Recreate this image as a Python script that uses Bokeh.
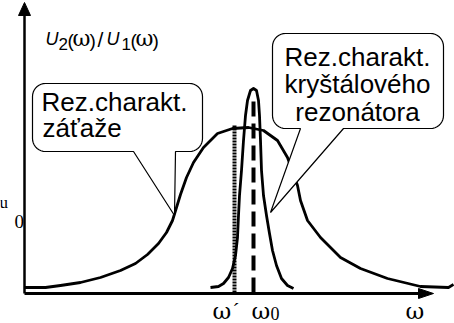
import numpy as np
from bokeh.plotting import figure
from bokeh.models import Range1d, Label
from bokeh.embed import file_html
from bokeh.resources import INLINE

# Load (wide) resonance characteristic: omega vs. amplitude
load_w = [0, 21, 36, 56, 76, 96, 111, 123, 134, 142, 148, 152, 156, 162, 169, 179, 193,
          208, 224, 239, 253, 263, 273, 276, 283, 296, 316, 336, 363, 396, 424, 429]
load_a = [5, 5, 7, 10, 15, 22, 29, 38, 49, 60, 72, 85, 98, 115, 130, 145, 159,
          164, 165, 162, 152, 135, 107, 92, 72, 55, 35, 24, 14, 6, 5, 8]

# Crystal resonator (narrow) characteristic
xtal_w = [186, 194, 199, 204, 208, 211, 213, 214, 215, 217, 219, 221, 223, 226, 229,
          232, 234, 235, 236, 237, 239, 242, 245, 248, 252, 257, 263, 269]
xtal_a = [5, 6, 9, 15, 24, 37, 55, 77, 97, 122, 152, 177, 192, 202, 204,
          202, 192, 177, 152, 122, 97, 77, 59, 42, 27, 14, 7, 4]

# Marked frequencies
w_prime = 210
w_zero = 229
w_prime_top = 167
w_zero_top = 194

W, H = 454, 323
p = figure(width=W, height=H, x_range=Range1d(-24, 430), y_range=Range1d(-31, 292),
           output_backend="svg", toolbar_location=None,
           x_axis_type=None, y_axis_type=None, min_border=0,
           outline_line_color=None, background_fill_color="white",
           border_fill_color="white")

BLACK = "#000000"

# axes with arrow heads
p.line([0, 0], [-1, 278], line_color=BLACK, line_width=2.5)
p.patch([-6, 6, 0], [277, 277, 290], fill_color=BLACK, line_color=BLACK, line_width=1)
p.line([0, 396], [-1, -1], line_color=BLACK, line_width=3)
p.patch([394, 394, 409], [-6, 4, -1], fill_color=BLACK, line_color=BLACK, line_width=1)

# curves
p.line(load_w, load_a, line_color=BLACK, line_width=2.8, line_join="round")
p.line(xtal_w, xtal_a, line_color=BLACK, line_width=2.8, line_join="round")

# frequency markers
p.line([w_prime, w_prime], [0, w_prime_top], line_color=BLACK, line_width=4,
       line_dash="2 1")
p.line([w_zero, w_zero], [0, w_zero_top], line_color=BLACK, line_width=4,
       line_dash="15 7")


def callout(x0, x1, y0, y1, r, bx0, bx1, tx, ty, n=10):
    xs, ys = [], []

    def arc(cx, cy, a0, a1):
        for t in np.linspace(np.radians(a0), np.radians(a1), n):
            xs.append(cx + r * np.cos(t))
            ys.append(cy + r * np.sin(t))

    arc(x0 + r, y1 - r, 180, 90)
    arc(x1 - r, y1 - r, 90, 0)
    arc(x1 - r, y0 + r, 0, -90)
    xs.extend([bx1, tx, bx0])
    ys.extend([y0, ty, y0])
    arc(x0 + r, y0 + r, -90, -180)
    return xs, ys


for box in [(8, 178, 141, 209, 13, 109, 151, 150, 77),
            (248, 419, 164, 259, 13, 276, 319, 246, 80)]:
    bx, by = callout(*box)
    p.patch(bx, by, fill_color="white", line_color=BLACK, line_width=1.2)

SANS = "Liberation Sans"
SERIF = "Liberation Serif"
GREEK = "DejaVu Serif"
LIFT = 7  # raise labels so the given y is the text baseline


def label(x, y, text, size, font=SANS, align="left", style="normal"):
    p.add_layout(Label(x=x, y=y, y_offset=LIFT, text=text, text_font=font,
                       text_font_size=f"{size}px", text_align=align,
                       text_baseline="alphabetic", text_font_style=style,
                       text_color=BLACK))


# callout texts
label(17, 184, "Rez.charakt.", 26)
label(18, 158, "záťaže", 26)
label(333, 229, "Rez.charakt.", 26, align="center")
label(333, 202, "kryštálového", 26, align="center")
label(333, 174, "rezonátora", 26, align="center")

# y-axis title U2(ω)/U1(ω)
label(21, 247, "U", 18, style="italic")
label(34, 242, "2", 17)
label(43, 245, "(", 19)
label(48, 247, "ω", 22, font=GREEK)
label(65, 245, ")", 19)
label(73, 246, "/", 21)
label(82, 247, "U", 18, style="italic")
label(97, 242, "1", 17)
label(106, 245, "(", 19)
label(111, 247, "ω", 22, font=GREEK)
label(128, 245, ")", 19)

# frequency labels
label(188, -25, "ω", 23, font=GREEK)
label(208, -25, "´", 21, font=SERIF)
label(227, -25, "ω", 23, font=GREEK)
label(246, -28, "0", 18, font=SERIF)
label(381, -25, "ω", 23, font=GREEK)

# level label at the left edge
label(-25, 83, "u", 17, font=SERIF)
label(-10, 64, "0", 19, font=SERIF)

open("out.html", "w").write(file_html(p, INLINE))
